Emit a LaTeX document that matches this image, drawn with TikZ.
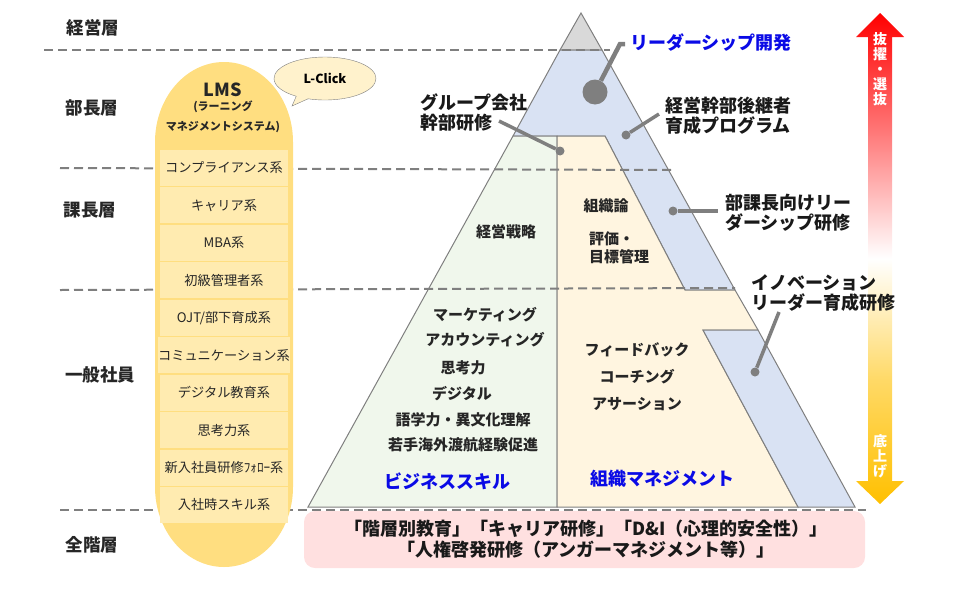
\documentclass[tikz,border=0pt]{standalone}
\usepackage{fontspec}
\setmainfont{Noto Sans CJK JP}
\usetikzlibrary{shapes.callouts}
\definecolor{linegray}{HTML}{7F7F7F}
\definecolor{topgray}{HTML}{D9D9D9}
\definecolor{stripblue}{HTML}{D9E2F3}
\definecolor{skillgreen}{HTML}{F0F7EC}
\definecolor{orgcream}{HTML}{FFF5E0}
\definecolor{pillaryellow}{HTML}{FFDE80}
\definecolor{itemyellow}{HTML}{FFEBB0}
\definecolor{bubblecream}{HTML}{FFF2CC}
\definecolor{allpink}{HTML}{FFE0E0}
\definecolor{headblue}{HTML}{0A0AE6}
\definecolor{riseyellow}{HTML}{FFD966}
\definecolor{risegold}{HTML}{FFC000}
\definecolor{risepink}{HTML}{FF7777}
\pgfdeclareverticalshading{rankshade}{100bp}{color(0bp)=(risegold); color(25bp)=(risegold); color(37.6bp)=(riseyellow); color(50bp)=(white); color(63bp)=(risepink); color(75bp)=(red); color(100bp)=(red)}
\tikzset{
  part/.style={draw=linegray,line width=1pt},
  level/.style={draw=linegray,line width=2pt,dash pattern=on 9pt off 5pt},
  rank/.style={font=\fontsize{17.5}{20}\selectfont\bfseries,text=black!85},
  item/.style={fill=itemyellow,minimum width=128pt,minimum height=36pt,inner sep=0pt,font=\fontsize{13.2}{15}\selectfont,text=black!85},
  subject/.style={font=\fontsize{15}{18}\selectfont\bfseries,text=black!85,inner sep=0pt,yshift=-1pt},
  course/.style={font=\fontsize{18}{20}\selectfont\bfseries,text=black!90,align=left,anchor=west,inner sep=0pt,yshift=-1pt},
  heading/.style={font=\fontsize{18}{20}\selectfont\bfseries,text=headblue,inner sep=0pt,yshift=-1pt},
  leader/.style={draw=linegray,line width=3.5pt},
  dot/.style={circle,fill=linegray,inner sep=0pt,minimum size=#1},
  updown/.style={font=\fontsize{14}{15}\selectfont\bfseries,text=white,align=center,inner sep=0pt}
}
\begin{document}
\begin{tikzpicture}[x=1pt,y=-1pt]
  \useasboundingbox (0,0) rectangle (960,608);
  \fill[allpink,rounded corners=11pt] (304,511) rectangle (865,568);
  \filldraw[part,fill=topgray] (581,13) -- (602,50) -- (560,50) -- cycle;
  \filldraw[part,fill=stripblue] (560,50) -- (602,50) -- (735,290) -- (685,290) -- (605,136) -- (513,136) -- cycle;
  \filldraw[part,fill=skillgreen] (513,136) -- (557,136) -- (557,507) -- (308,507) -- cycle;
  \filldraw[part,fill=orgcream] (557,136) -- (605,136) -- (685,290) -- (735,290) -- (758,330) -- (703,330) -- (798,507) -- (557,507) -- cycle;
  \filldraw[part,fill=stripblue] (703,330) -- (758,330) -- (855,507) -- (798,507) -- cycle;
  \draw[level] (44,50) -- (610,50);
  \draw[level] (60,168) -- (672,170);
  \draw[level] (60,290) -- (735,288);
  \draw[level] (60,510) -- (866,510);
  \fill[pillaryellow] (155,142) arc[start angle=180,end angle=360,x radius=69,y radius=80] -- (293,487) arc[start angle=0,end angle=180,x radius=69,y radius=80] -- cycle;
  \node[draw=linegray,fill=bubblecream,ellipse callout,minimum width=102pt,minimum height=43pt,inner sep=0pt,callout absolute pointer={(292,106)},font=\fontsize{12.5}{14}\selectfont\bfseries] (lclick) at (325,78.5) {L-Click};
  \node[font=\fontsize{18}{20}\selectfont\bfseries,text=black!85] (lms) at (223,90) {LMS};
  \node[font=\fontsize{11}{13}\selectfont\bfseries,text=black!85] (lmsa) at (223,107) {(ラーニング};
  \node[font=\fontsize{11}{13}\selectfont\bfseries,text=black!85] (lmsb) at (223,127) {マネジメントシステム)};
  \foreach \name/\txt [count=\i from 0] in {a/コンプライアンス系,b/キャリア系,c/MBA系,d/初級管理者系,e/{OJT/部下育成系},f/コミュニケーション系,g/デジタル教育系,h/思考力系,i/新入社員研修ﾌｫﾛｰ系,j/入社時スキル系}
    \node[item] (item\name) at (224,168+37.44*\i) {\txt};
  \node[rank] (ranka) at (93,28) {経営層};
  \node[rank] (rankb) at (92,108) {部長層};
  \node[rank] (rankc) at (90,210) {課長層};
  \node[rank] (rankd) at (100,375) {一般社員};
  \node[rank] (ranke) at (92,545) {全階層};
  \node[subject] (strategy) at (506,231) {経営戦略};
  \node[subject] (orgtheory) at (606,205) {組織論};
  \node[subject,align=left,anchor=west] (evaluate) at (589,247) {評価・\\目標管理};
  \node[subject] (marketing) at (485,314) {マーケティング};
  \node[subject] (account) at (485,339) {アカウンティング};
  \node[subject] (thinking) at (463,367) {思考力};
  \node[subject] (digital) at (462,393) {デジタル};
  \node[subject] (language) at (463,419) {語学力・異文化理解};
  \node[subject] (overseas) at (463,444) {若手海外渡航経験促進};
  \node[subject] (feedback) at (637,349) {フィードバック};
  \node[subject] (coaching) at (637,376) {コーチング};
  \node[subject] (assert) at (637,403) {アサーション};
  \node[heading] (bizskill) at (447,480) {ビジネススキル};
  \node[heading] (orgmgmt) at (662,478) {組織マネジメント};
  \node[font=\fontsize{18}{21}\selectfont\bfseries,text=black!90,align=center,inner sep=0pt] (allnote) at (586,539.5) {「階層別教育」「キャリア研修」「D\&I（心理的安全性）」\\「人権啓発研修（アンガーマネジメント等）」};
  \shade[shading=rankshade] (880,13) -- (904,37) -- (892,37) -- (892,481) -- (904,481) -- (880,504) -- (856,481) -- (868,481) -- (868,37) -- (856,37) -- cycle;
  \node[updown] (pickup) at (880,69) {抜\\擢\\・\\選\\抜};
  \node[updown] (raise) at (880,456) {底\\上\\げ};
  \node[heading,anchor=west] (devtitle) at (630,42) {リーダーシップ開発};
  \node[course] (group) at (420,112) {グループ会社\\幹部研修};
  \node[course] (successor) at (665,114.5) {経営幹部後継者\\育成プログラム};
  \node[course] (managers) at (725,211.5) {部課長向けリー\\ダーシップ研修};
  \node[course] (innovation) at (751,292) {イノベーション\\リーダー育成研修};
  \node[dot=25pt] (dota) at (595,92) {};
  \node[dot=9pt] (dotb) at (626,135) {};
  \node[dot=9pt] (dotc) at (560,151) {};
  \node[dot=9pt] (dotd) at (673,211) {};
  \node[dot=9pt] (dote) at (755,372) {};
  \coordinate (enda) at (625,44);
  \coordinate (endb) at (659,114);
  \coordinate (endc) at (499,121);
  \coordinate (endd) at (718,211);
  \coordinate (ende) at (779,312);
  \draw[leader,line width=4.5pt] (dota) -- (620,44) -- (enda);
  \draw[leader] (dotb) -- (endb);
  \draw[leader] (dotc) -- (endc);
  \draw[leader] (dotd) -- (endd);
  \draw[leader] (dote) -- (ende);
\end{tikzpicture}
\end{document}
